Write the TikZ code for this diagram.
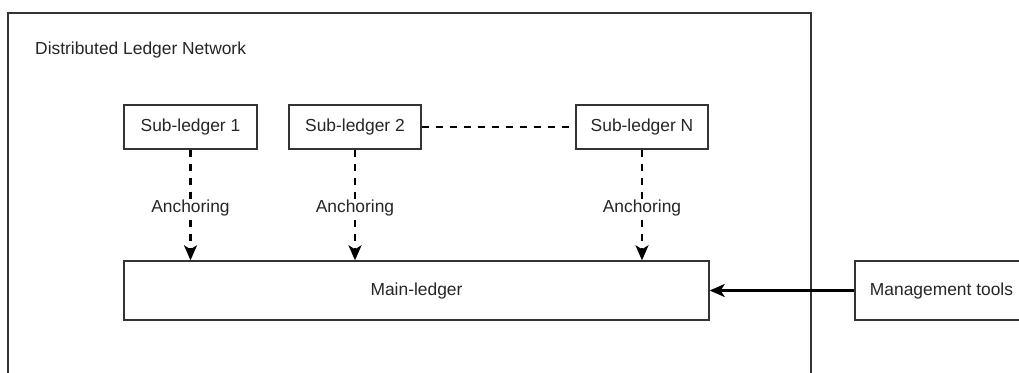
\documentclass[tikz,border=0pt]{standalone}
\usepackage{fontspec}
\setmainfont{Liberation Sans}
\usetikzlibrary{arrows.meta}
\tikzset{
  frame/.style={draw=black!80, line width=1.4pt, rectangle, inner sep=0pt},
  box/.style={draw=black!80, line width=1.4pt, rectangle, inner sep=0pt, text=black!85, font=\fontsize{17.4}{20}\selectfont},
  lbl/.style={fill=white, text=black!85, inner sep=1pt, font=\fontsize{17.4}{20}\selectfont},
  anchorarrow/.style={draw=black, line width=2.4pt, dash pattern=on 7pt off 7pt, -{Stealth[length=15pt,width=13pt,inset=4pt]}},
  solidarrow/.style={draw=black, line width=2.4pt, -{Stealth[length=15pt,width=13pt,inset=4pt]}},
  dashlink/.style={draw=black, line width=2.4pt, dash pattern=on 7pt off 7pt}
}
\begin{document}
\begin{tikzpicture}[x=1pt,y=-1pt]
\clip (0,0) rectangle (1019,372);
\fill[white] (0,0) rectangle (1019,372);
\node[frame, minimum width=803pt, minimum height=400pt] (net) at (409.5,213) {};
\node[lbl, fill=none, anchor=west] (title) at (34,50) {Distributed Ledger Network};
\node[box, minimum width=133pt, minimum height=44pt] (sl1) at (190.5,127) {Sub-ledger 1};
\node[box, minimum width=132pt, minimum height=44pt] (sl2) at (355,127) {Sub-ledger 2};
\node[box, minimum width=132pt, minimum height=44pt] (sln) at (642,127) {Sub-ledger N};
\node[box, minimum width=585pt, minimum height=59pt] (main) at (416.5,290.5) {Main-ledger};
\node[box, minimum width=173pt, minimum height=59pt] (mgmt) at (941.5,290.5) {Management tools};
\draw[dashlink] (sl2.east) -- (sln.west);
\draw[anchorarrow] (sl1.south) -- (sl1.south |- main.north) node[lbl, pos=0.53] (a1) {Anchoring};
\draw[anchorarrow] (sl2.south) -- (sl2.south |- main.north) node[lbl, pos=0.53] (a2) {Anchoring};
\draw[anchorarrow] (sln.south) -- (sln.south |- main.north) node[lbl, pos=0.53] (a3) {Anchoring};
\draw[solidarrow] (mgmt.west) -- (main.east);
\end{tikzpicture}
\end{document}
